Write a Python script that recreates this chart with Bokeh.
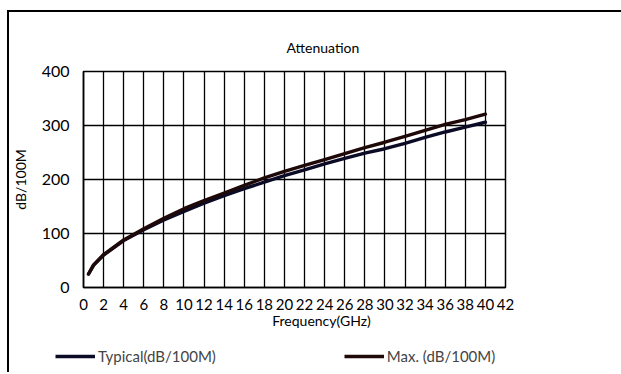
from bokeh.plotting import figure
from bokeh.layouts import column
from bokeh.models import Range1d, FixedTicker, Legend, LegendItem, Label
from bokeh.embed import file_html
from bokeh.resources import INLINE

# ---- data ----
freq = [0.5, 1, 2, 4, 6, 8, 10, 12, 14, 16, 18, 20, 22, 24, 26, 28, 30, 32, 34, 36, 38, 40]
typical = [25, 41, 60, 87, 107, 125, 141, 156, 170, 183, 195, 207, 218, 229, 239, 249, 257, 267, 278, 288, 297, 306]
maximum = [25, 42, 61, 88, 109, 128, 146, 161, 175, 189, 203, 215, 226, 237, 248, 259, 269, 280, 291, 302, 311, 321]
x_ticks = list(range(0, 43, 2))
y_ticks = [0, 100, 200, 300, 400]
title_text = "Attenuation"
x_title = "Frequency(GHz)"
y_title = "dB/100M"
legend_labels = ["Typical(dB/100M)", "Max. (dB/100M)"]

FONT = "Lato"
TYP_COLOR = "#0b0b26"
MAX_COLOR = "#1e0808"
W = 614

# ---------- main chart ----------
p = figure(width=W, height=302, output_backend="svg", toolbar_location=None,
           x_range=Range1d(0, 42), y_range=Range1d(0, 400),
           min_border_left=76, min_border_right=W - 498, min_border_top=61, min_border_bottom=24,
           title=title_text)
p.frame_align = False

p.title.align = "left"
p.title.offset = 203
p.title.text_font = FONT
p.title.text_font_size = "14px"
p.title.text_font_style = "normal"
p.title.text_color = "black"
p.title.standoff = 31

p.background_fill_color = "white"
p.border_fill_alpha = 0
p.outline_line_color = "black"
p.outline_line_width = 1.5

for ax in (p.xaxis[0], p.yaxis[0]):
    ax.axis_line_color = "black"
    ax.axis_line_width = 1.5
    ax.major_tick_line_color = None
    ax.minor_tick_line_color = None
    ax.major_label_text_font = FONT
    ax.major_label_text_color = "black"
    ax.axis_label_text_font = FONT
    ax.axis_label_text_font_size = "14px"
    ax.axis_label_text_font_style = "normal"
    ax.axis_label_text_color = "black"

p.xaxis.major_label_text_font_size = "15px"
p.yaxis.major_label_text_font_size = "16px"
p.yaxis.axis_label = y_title
p.xaxis.ticker = FixedTicker(ticks=x_ticks)
p.yaxis.ticker = FixedTicker(ticks=y_ticks)
p.xaxis.major_label_standoff = 5
p.yaxis.major_label_standoff = 8
p.yaxis.axis_label_standoff = 10

p.xgrid.ticker = FixedTicker(ticks=x_ticks)
p.ygrid.ticker = FixedTicker(ticks=y_ticks)
p.xgrid.grid_line_color = "black"
p.ygrid.grid_line_color = "black"
p.xgrid.grid_line_width = 1.3
p.ygrid.grid_line_width = 1.3

p.line(freq, typical, line_color=TYP_COLOR, line_width=3.4, line_cap="round")
p.line(freq, maximum, line_color=MAX_COLOR, line_width=3.4, line_cap="round")

# ---------- strip below: x-axis title and legend ----------
p2 = figure(width=W, height=60, output_backend="svg", toolbar_location=None,
            x_axis_type=None, y_axis_type=None,
            x_range=Range1d(0, 1), y_range=Range1d(0, 1),
            min_border_left=0, min_border_right=0, min_border_top=0, min_border_bottom=0)
p2.frame_align = False
p2.outline_line_color = None
p2.xgrid.visible = False
p2.ygrid.visible = False
p2.background_fill_alpha = 0
p2.border_fill_alpha = 0

p2.add_layout(Label(x=314, y=52, x_units="screen", y_units="screen", text=x_title,
                    text_font=FONT, text_font_size="14px", text_align="center",
                    text_baseline="middle", text_color="black"))

# legend-only renderers (the series lie outside this strip's 0..1 ranges)
l_typ = p2.line(freq, typical, line_color=TYP_COLOR, line_width=3.4)
l_max = p2.line(freq, maximum, line_color=MAX_COLOR, line_width=3.4)
legend = Legend(items=[LegendItem(label=legend_labels[0], renderers=[l_typ]),
                       LegendItem(label=legend_labels[1], renderers=[l_max])],
                location=(48, 7), orientation="horizontal",
                label_text_font=FONT, label_text_font_size="15px",
                glyph_width=40, glyph_height=18, label_standoff=3, spacing=128,
                padding=0, margin=0, border_line_alpha=0, background_fill_alpha=0)
p2.add_layout(legend, "center")

layout = column(p, p2, spacing=0)
layout.styles = {"position": "relative", "left": "7px", "top": "10px",
                 "background-color": "white",
                 "box-shadow": "inset 2px 2px 0 0 #000"}

open("out.html", "w").write(file_html(layout, INLINE))
